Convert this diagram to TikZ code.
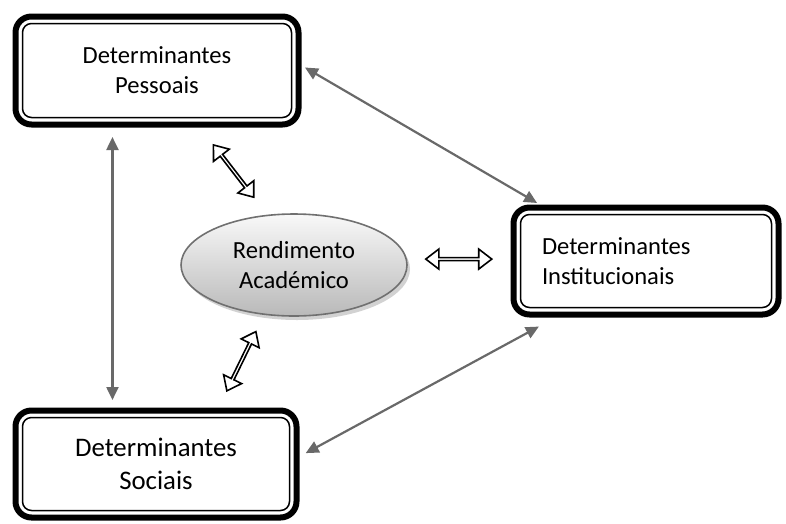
\documentclass[tikz,border=0pt]{standalone}
\usepackage{fontspec}
\setmainfont{Carlito}
\definecolor{linkgray}{RGB}{105,105,105}
\definecolor{rimgray}{RGB}{112,112,112}
\usetikzlibrary{calc, arrows.meta, shapes.geometric, shapes.arrows, shadows}

\begin{document}
\begin{tikzpicture}[x=1pt, y=-1pt,
		determ/.style={draw, line width=6pt, rounded corners=16pt, inner sep=0pt, align=center, font=\fontsize{24.6}{30}\selectfont},
		innerline/.style={line width=1.5pt, rounded corners=9pt},
		result/.style={ellipse, draw=rimgray, line width=1.6pt, top color=gray!5, bottom color=gray!55, minimum width=226pt, minimum height=102pt, inner sep=0pt, align=center, font=\fontsize{24.6}{30}\selectfont, drop shadow={shadow xshift=3pt, shadow yshift=-4pt, fill=gray!35, opacity=1}},
		link/.style={draw=linkgray, line width=2.2pt, {Triangle[length=13pt,width=12pt]}-{Triangle[length=13pt,width=12pt]}},
		hollow/.style={double arrow, draw, fill=white, line width=1.6pt, minimum height=66pt, minimum width=20pt, double arrow head extend=4.5pt, double arrow tip angle=75, inner sep=0pt, sloped}
		]
		\useasboundingbox (0,0) rectangle (786,523);
		
		\node[determ, minimum width=283pt, minimum height=108pt] (pes) at (157,70.5) {Determinantes\\Pessoais};
		\node[determ, minimum width=265pt, minimum height=107pt, text width=208pt, align=left] (inst) at (646,261) {Determinantes\\Institucionais};
		\node[determ, minimum width=281pt, minimum height=107pt, font=\fontsize{26.8}{33}\selectfont] (soc) at (156,464) {Determinantes\\Sociais};
		\node[result] (rend) at (294,265) {Rendimento\\Académico};
		
		\foreach \n in {pes,inst,soc}{
			\draw[innerline] ([shift={(10pt,10pt)}]\n.south west) rectangle ([shift={(-10pt,-10pt)}]\n.north east);
		}
		
		\draw[link, shorten <=4pt, shorten >=3pt] (pes.2)--(inst.152);
		\draw[link, shorten <=9.5pt, shorten >=7.5pt] (pes.232)--(pes.232|-soc.north);
		\draw[link, shorten <=7pt, shorten >=19pt] (soc.3)--(inst.212);
		
		\path (pes.307)--(rend.118) node[hollow, midway] {};
		\path (soc.42)--(rend.239) node[hollow, midway] {};
		\path (rend.3)--(rend.3-|inst.west) node[hollow, midway] {};
	\end{tikzpicture}
\end{document}
